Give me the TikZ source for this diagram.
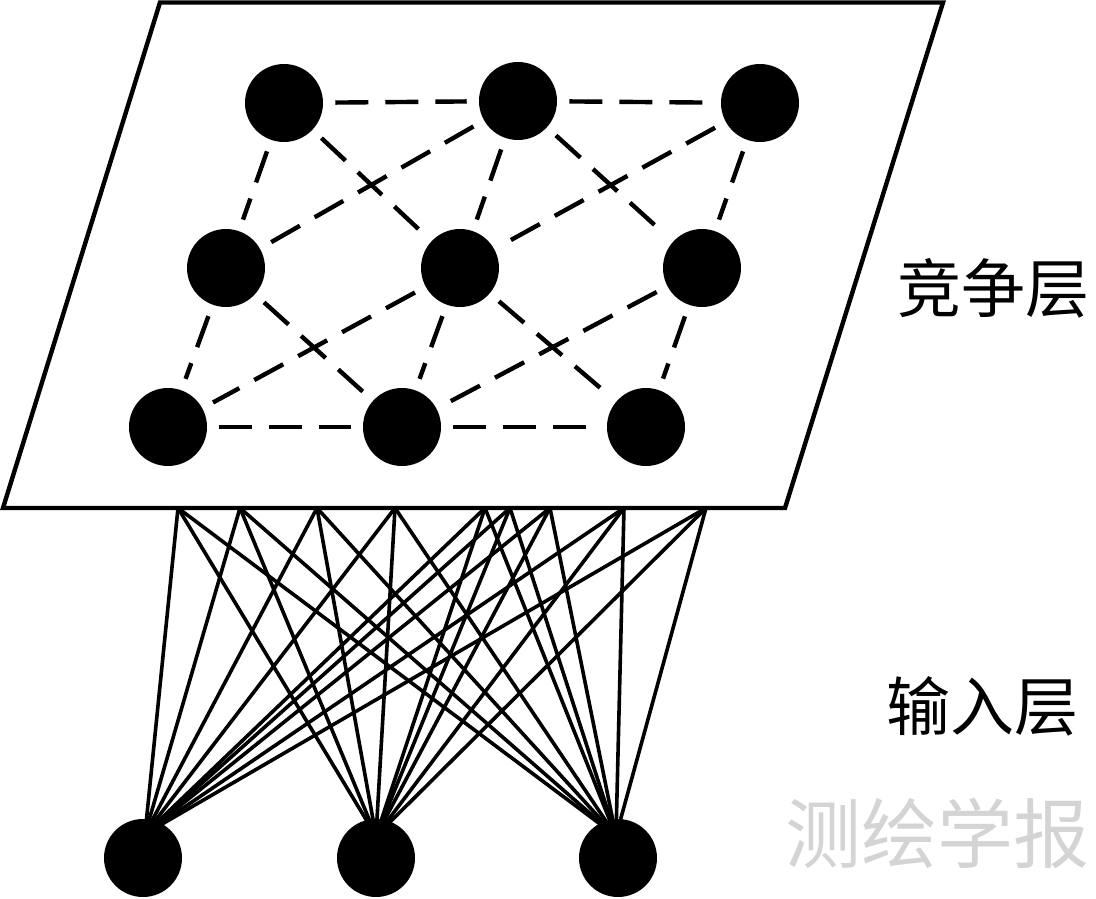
\documentclass[tikz,border=0pt]{standalone}
\usepackage{fontspec}
\newfontfamily\cjk{Noto Sans CJK SC}
\begin{document}
\begin{tikzpicture}[x=0.75pt,y=-0.75pt,
  neuron/.style={circle,fill=black,draw=none,minimum size=58.5pt,inner sep=0pt},
  link/.style={line width=2.7pt,line cap=round},
  lateral/.style={line width=3.3pt,dash pattern=on 24.75pt off 12.75pt,shorten <=9pt,shorten >=9pt},
  frame/.style={line width=3.3pt,line join=miter},
  lbl/.style={font=\cjk\fontsize{48pt}{52pt}\selectfont,inner sep=0pt},
  wm/.style={font=\cjk\fontsize{57pt}{61pt}\selectfont,text=black!17,inner sep=0pt}]
\useasboundingbox (0,0) rectangle (1096,899);

% plane corners
\coordinate (TL) at (160,2.5);
\coordinate (TR) at (943,2.5);
\coordinate (BR) at (785,508);
\coordinate (BL) at (3,508);

% attachment points on the bottom edge
\coordinate (p1) at (178,508);
\coordinate (p2) at (240,508);
\coordinate (p3) at (317,508);
\coordinate (p4) at (395,508);
\coordinate (p5) at (485,508);
\coordinate (p6) at (510,508);
\coordinate (p7) at (550,508);
\coordinate (p8) at (624,508);
\coordinate (p9) at (706,508);

% input targets (upper part of input neurons)
\coordinate (t1) at (145,834);
\coordinate (t2) at (376,836);
\coordinate (t3) at (616,836);

% connections
\foreach \p in {p1,p2,p3,p4,p5,p6,p7,p8,p9}{
  \foreach \t in {t1,t2,t3}{
    \draw[link] (\p) -- (\t);
  }
}

% plane
\draw[frame,fill=white] (TL) -- (TR) -- (BR) -- (BL) -- cycle;

% competition neurons
\node[neuron] (c11) at (284,103) {};
\node[neuron] (c12) at (518,101) {};
\node[neuron] (c13) at (760,103) {};
\node[neuron] (c21) at (226,268) {};
\node[neuron] (c22) at (460,268) {};
\node[neuron] (c23) at (702,268) {};
\node[neuron] (c31) at (168,427) {};
\node[neuron] (c32) at (402,427) {};
\node[neuron] (c33) at (646,427) {};

% lateral connections
\draw[lateral] (c11) -- (c12);
\draw[lateral] (c12) -- (c13);
\draw[lateral] (c31) -- (c32);
\draw[lateral] (c32) -- (c33);
\draw[lateral] (c11) -- (c21);
\draw[lateral] (c21) -- (c31);
\draw[lateral] (c12) -- (c22);
\draw[lateral] (c22) -- (c32);
\draw[lateral] (c13) -- (c23);
\draw[lateral] (c23) -- (c33);
\draw[lateral] (c11) -- (c22);
\draw[lateral] (c12) -- (c21);
\draw[lateral] (c12) -- (c23);
\draw[lateral] (c13) -- (c22);
\draw[lateral] (c21) -- (c32);
\draw[lateral] (c22) -- (c31);
\draw[lateral] (c22) -- (c33);
\draw[lateral] (c23) -- (c32);

% input neurons
\node[neuron] (i1) at (143,858) {};
\node[neuron] (i2) at (376,858) {};
\node[neuron] (i3) at (618,858) {};

% labels
\node[lbl] (lc) at (993,288) {竞争层};
\node[lbl] (li) at (982,706) {输入层};
\node[wm] (wmk) at (937,833) {测绘学报};
\end{tikzpicture}
\end{document}
